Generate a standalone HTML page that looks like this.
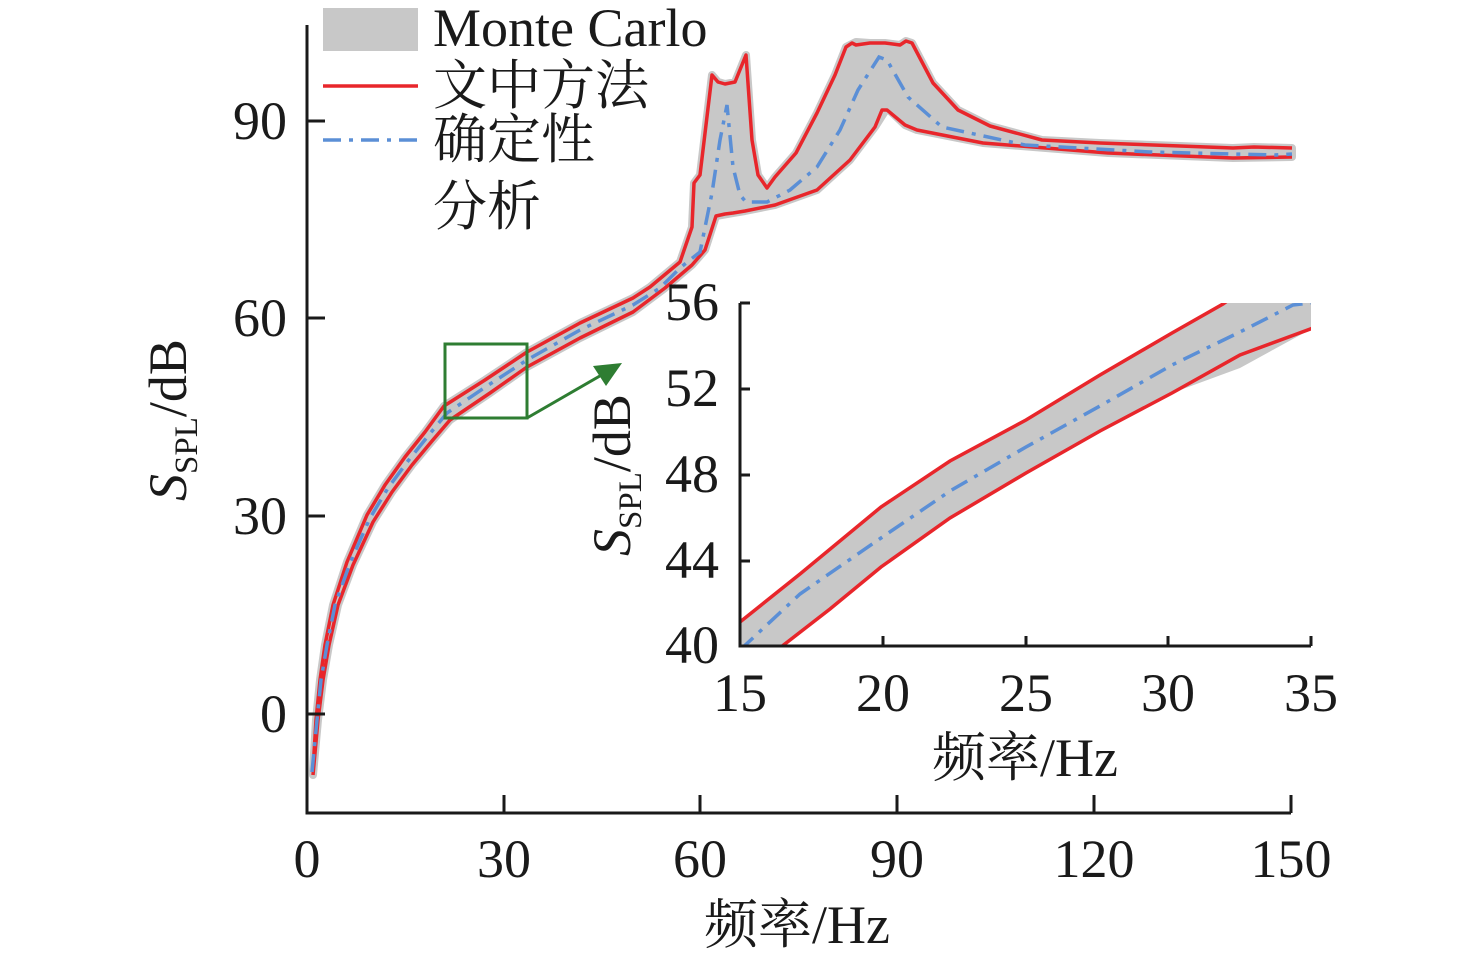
<!DOCTYPE html>
<html><head><meta charset="utf-8"><style>
html,body{margin:0;padding:0;background:#fff;}
svg{display:block;}
text{font-family:"Liberation Serif","Noto Serif CJK SC",serif;fill:#1a1a1a;}
</style></head><body>
<svg width="1476" height="962" viewBox="0 0 1476 962" xmlns="http://www.w3.org/2000/svg">
<!-- main band -->
<polygon fill="#c8c8c8" stroke="#c8c8c8" stroke-width="8" stroke-linejoin="round" points="313,770 316,720 320,680 325,645 333,605 347,562 367,515 385,485 405,457 425,432 444,406 485,380 527,352 580,323 633,298 650,287 680,262 692,227 694,183 700,175 712,75 718,82 725,84 735,82 746,55 752,140 758,175 767,188 775,177 796,153 817,113 835,75 846,47 856,42 870,43 885,43 900,45 906,41 912,43 933,83 958,110 990,126 1042,140 1100,143 1180,146 1233,148 1254,147 1292,148 1292,157 1233,158 1108,153 983,143 917,130 905,125 887,108 875,127 850,160 817,190 775,205 745,211 733,213 716,216 705,250 692,265 665,288 633,312 580,338 527,367 490,393 450,420 432,441 412,465 392,492 373,522 353,565 338,605 329,645 323,680 318,720 313,775"/>
<!-- upper red -->
<polyline fill="none" stroke="#e8262b" stroke-width="3.5" stroke-linejoin="round" points="313,770 316,720 320,680 325,645 333,605 347,562 367,515 385,485 405,457 425,432 444,406 485,380 527,352 580,323 633,298 650,287 680,262 692,227 694,183 700,175 712,75 718,82 725,84 735,82 746,55 752,140 758,175 767,188 775,177 796,153 817,113 835,75 846,47 852,43 856,45 870,43 885,43 900,45 906,41 912,43 933,83 958,110 990,126 1042,140 1100,143 1180,146 1233,148 1254,147 1292,148"/>
<!-- lower red -->
<polyline fill="none" stroke="#e8262b" stroke-width="3.5" stroke-linejoin="round" points="313,775 318,720 323,680 329,645 338,605 353,565 373,522 392,492 412,465 432,441 450,420 490,393 527,367 580,338 633,312 665,288 692,265 705,250 716,216 725,214 733,213 745,211 775,205 817,190 850,160 875,127 882,110 887,110 905,125 917,130 983,143 1108,153 1233,158 1292,157"/>
<!-- dashed -->
<polyline fill="none" stroke="#5b8fd6" stroke-width="3.5" stroke-dasharray="18,8,4,8" points="312,772 317,720 321,680 327,645 335,605 350,563 370,518 388,488 408,461 428,436 447,413 487,386 527,360 580,330 633,305 660,288 680,268 700,252 712,193 720,140 727,105 733,167 740,195 746,202 767,202 790,190 817,167 840,130 858,90 879,57 887,60 908,97 942,127 1025,145 1150,152 1275,155 1292,154"/>
<!-- main axes -->
<g stroke="#1a1a1a" stroke-width="3" fill="none">
<path d="M307,25 V813 H1291"/>
<path d="M307,121 H325 M307,318 H325 M307,516 H325 M307,714 H325"/>
<path d="M504,813 V795 M700,813 V795 M897,813 V795 M1094,813 V795 M1291,813 V795"/>
</g>
<g font-size="54" text-anchor="end">
<text x="287" y="139">90</text><text x="287" y="336">60</text><text x="287" y="534">30</text><text x="287" y="732">0</text>
</g>
<g font-size="54" text-anchor="middle">
<text x="307" y="877">0</text><text x="504" y="877">30</text><text x="700" y="877">60</text><text x="897" y="877">90</text><text x="1094" y="877">120</text><text x="1291" y="877">150</text>
<text x="797" y="943">频率/Hz</text>
</g>
<text transform="translate(186,420) rotate(-90)" text-anchor="middle" font-size="54"><tspan font-style="italic">S</tspan><tspan font-size="33" dy="11">SPL</tspan><tspan dy="-11">/dB</tspan></text>
<!-- zoom box & arrow -->
<rect x="445" y="344" width="82" height="74" fill="none" stroke="#2e7d32" stroke-width="3"/>
<line x1="527" y1="418" x2="605" y2="373" stroke="#2e7d32" stroke-width="3"/>
<polygon points="622,363 593,366 606,386" fill="#2e7d32"/>
<!-- legend -->
<rect x="323" y="8" width="95" height="43" fill="#c8c8c8"/>
<line x1="323" y1="86" x2="418" y2="86" stroke="#e8262b" stroke-width="3.5"/>
<line x1="323" y1="140" x2="418" y2="140" stroke="#5b8fd6" stroke-width="3.5" stroke-dasharray="18,8,4,8"/>
<g font-size="54">
<text x="433" y="46">Monte Carlo</text>
<text x="433" y="104">文中方法</text>
<text x="433" y="158">确定性</text>
<text x="433" y="225">分析</text>
</g>
<!-- inset -->
<clipPath id="ic"><rect x="740" y="303" width="571" height="343"/></clipPath>
<g clip-path="url(#ic)">
<polygon fill="#c8c8c8" points="740,622 800,574 881,507 950,461 1026,420 1100,375 1172,333 1223,304 1223,290 1320,290 1313,328 1240,368 1172,393 1100,431 1026,473 950,518 881,567 830,609 781,647 740,647"/>
<polyline fill="none" stroke="#e8262b" stroke-width="3.5" points="740,622 800,574 881,507 950,461 1026,420 1100,375 1172,333 1223,304 1230,299"/>
<polyline fill="none" stroke="#e8262b" stroke-width="3.5" points="781,647 830,609 881,567 950,518 1026,473 1100,431 1172,393 1240,355 1313,328"/>
<polyline fill="none" stroke="#5b8fd6" stroke-width="3.5" stroke-dasharray="18,8,4,8" points="740,650 800,594 881,538 950,491 1026,447 1100,406 1172,365 1240,332 1293,305 1311,303"/>
</g>
<g stroke="#1a1a1a" stroke-width="3" fill="none">
<path d="M740,303 V646 H1311"/>
<path d="M740,303 H750 M740,389 H750 M740,475 H750 M740,561 H750"/>
<path d="M883,646 V636 M1026,646 V636 M1168,646 V636 M1311,646 V636"/>
</g>
<g font-size="54" text-anchor="end">
<text x="719" y="320">56</text><text x="719" y="406">52</text><text x="719" y="492">48</text><text x="719" y="578">44</text><text x="719" y="663">40</text>
</g>
<g font-size="54" text-anchor="middle">
<text x="740" y="711">15</text><text x="883" y="711">20</text><text x="1026" y="711">25</text><text x="1168" y="711">30</text><text x="1311" y="711">35</text>
<text x="1025" y="776">频率/Hz</text>
</g>
<text transform="translate(630,475) rotate(-90)" text-anchor="middle" font-size="54"><tspan font-style="italic">S</tspan><tspan font-size="33" dy="11">SPL</tspan><tspan dy="-11">/dB</tspan></text>
</svg>
</body></html>
